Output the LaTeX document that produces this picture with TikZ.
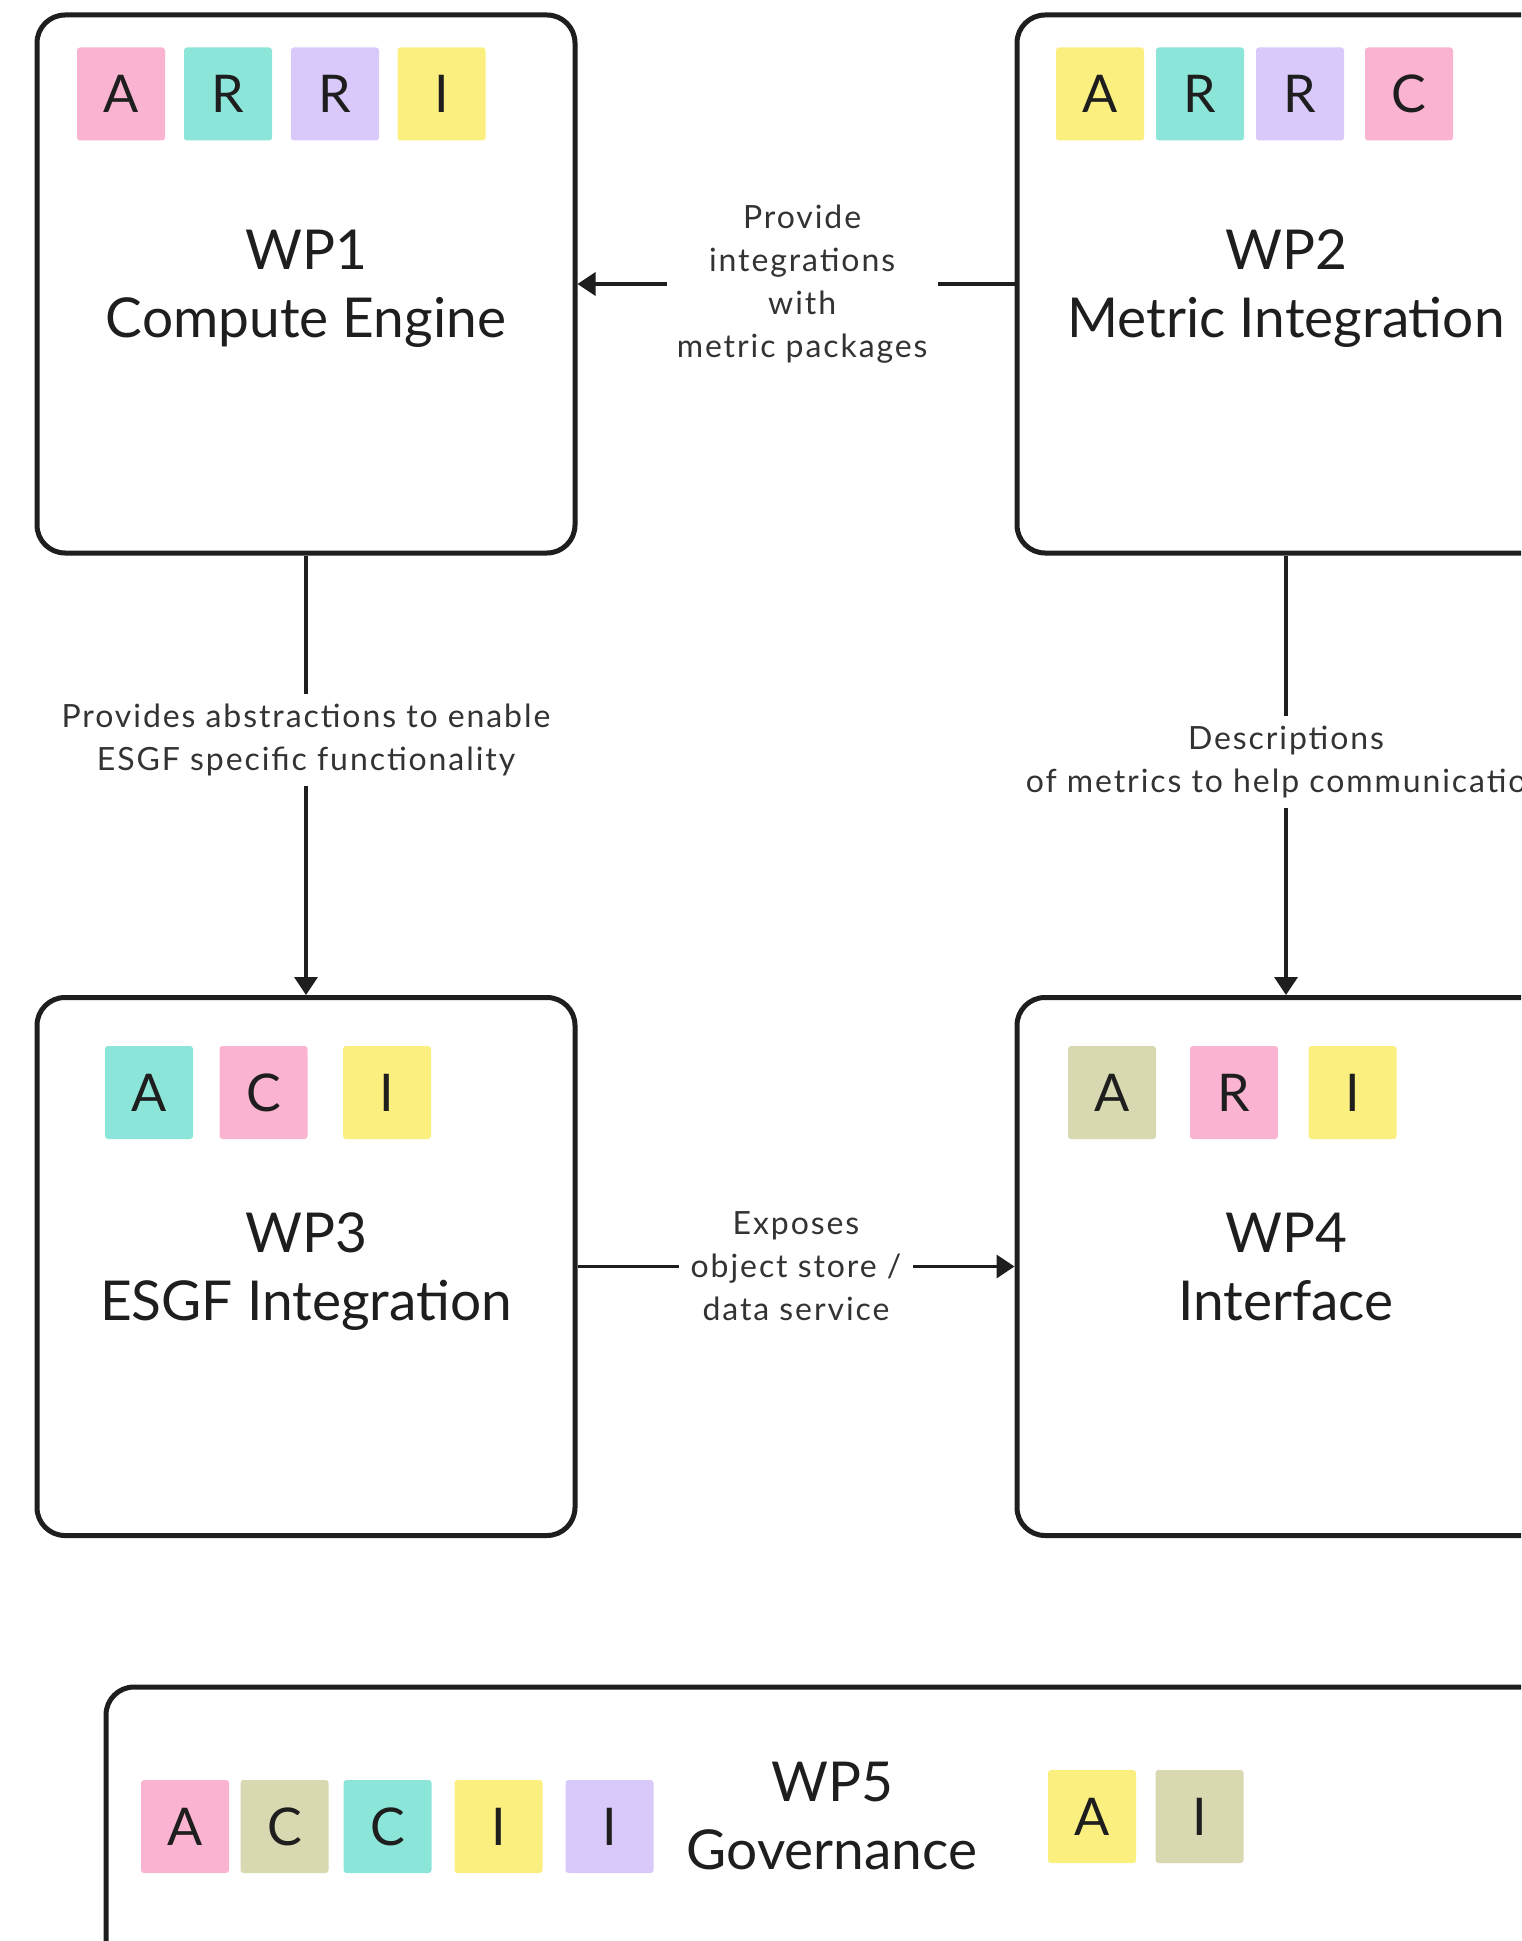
\documentclass[tikz,border=0pt]{standalone}
\usepackage{fontspec}
\setmainfont{Lato}
\newfontfamily\lblfont[LetterSpace=6]{Lato}
\usetikzlibrary{arrows.meta}
\definecolor{cpink}{HTML}{FAB4D2}
\definecolor{cteal}{HTML}{8BE6D9}
\definecolor{clav}{HTML}{D9C9FA}
\definecolor{cyel}{HTML}{FBF07F}
\definecolor{ckhaki}{HTML}{D8D8B1}
\definecolor{ink}{HTML}{1E1E1E}
\definecolor{lblink}{HTML}{333333}
\tikzset{
  wpbox/.style={draw=ink, line width=2.5pt, rounded corners=14pt, minimum width=269pt, minimum height=269pt, inner sep=0pt},
  sticky/.style={minimum width=44pt, minimum height=46.5pt, inner sep=0pt, rounded corners=1.5pt, text=ink, font=\fontsize{26}{30}\selectfont},
  wptitle/.style={align=center, text=ink, text depth=0pt, font=\fontsize{27.5}{34}\selectfont},
  conn/.style={draw=ink, line width=1.8pt, -{Triangle[length=9pt,width=11.5pt]}},
  lbl/.style={align=center, fill=white, text=lblink, inner xsep=5pt, inner ysep=5pt, font=\lblfont\fontsize{16}{21.5}\selectfont},
}
\newcommand\sticky[5]{\node[sticky, fill=#5] (#1) at (#2,#3) {#4};}
\begin{document}
\begin{tikzpicture}[x=0.5pt, y=-0.5pt]
\useasboundingbox (0,0) rectangle (1521,1941);
\clip (0,0) rectangle (1521,1941);
\fill[white] (0,0) rectangle (1521,1941);
% boxes
\node[wpbox] (wp1) at (306,284) {};
\node[wpbox] (wp2) at (1286,284) {};
\node[wpbox] (wp3) at (306,1266.5) {};
\node[wpbox] (wp4) at (1286,1266.5) {};
\node[draw=ink, line width=2.5pt, rounded corners=14pt, minimum width=1300pt, minimum height=160pt, inner sep=0pt] (wp5) at (1406,1847) {};
% titles
\node[wptitle] (t1) at (wp1.center) {WP1\\Compute Engine};
\node[wptitle] (t2) at (wp2.center) {WP2\\Metric Integration};
\node[wptitle] (t3) at (wp3.center) {WP3\\ESGF Integration};
\node[wptitle] (t4) at (wp4.center) {WP4\\Interface};
\node[wptitle] (t5) at (832,1816) {WP5\\Governance};
% stickies WP1
\sticky{s1a}{121}{94}{A}{cpink}
\sticky{s1b}{228}{94}{R}{cteal}
\sticky{s1c}{335}{94}{R}{clav}
\sticky{s1d}{441.5}{94}{I}{cyel}
% WP2
\sticky{s2a}{1100}{94}{A}{cyel}
\sticky{s2b}{1200}{94}{R}{cteal}
\sticky{s2c}{1300}{94}{R}{clav}
\sticky{s2d}{1409}{94}{C}{cpink}
% WP3
\sticky{s3a}{149}{1092.5}{A}{cteal}
\sticky{s3b}{263.5}{1092.5}{C}{cpink}
\sticky{s3c}{387}{1092.5}{I}{cyel}
% WP4
\sticky{s4a}{1112}{1092.5}{A}{ckhaki}
\sticky{s4b}{1234}{1092.5}{R}{cpink}
\sticky{s4c}{1352.5}{1092.5}{I}{cyel}
% WP5
\sticky{s5a}{185}{1826.5}{A}{cpink}
\sticky{s5b}{284.5}{1826.5}{C}{ckhaki}
\sticky{s5c}{387.5}{1826.5}{C}{cteal}
\sticky{s5d}{498.5}{1826.5}{I}{cyel}
\sticky{s5e}{609.5}{1826.5}{I}{clav}
\sticky{s5f}{1092}{1816.5}{A}{cyel}
\sticky{s5g}{1199.5}{1816.5}{I}{ckhaki}
% connectors
\draw[conn] (wp2.west) -- node[lbl, pos=0.486] (l1) {Provide\\integrations\\with\\metric packages} (wp1.east);
\draw[conn] (wp1.south) -- node[lbl, pos=0.42] (l2) {Provides abstractions to enable\\ESGF specific functionality} (wp3.north);
\draw[conn] (wp2.south) -- node[lbl, pos=0.47] (l3) {Descriptions\\of metrics to help communication} (wp4.north);
\draw[conn] (wp3.east) -- node[lbl, inner xsep=6pt] (l4) {Exposes\\object store /\\data service} (wp4.west);
\end{tikzpicture}
\end{document}
